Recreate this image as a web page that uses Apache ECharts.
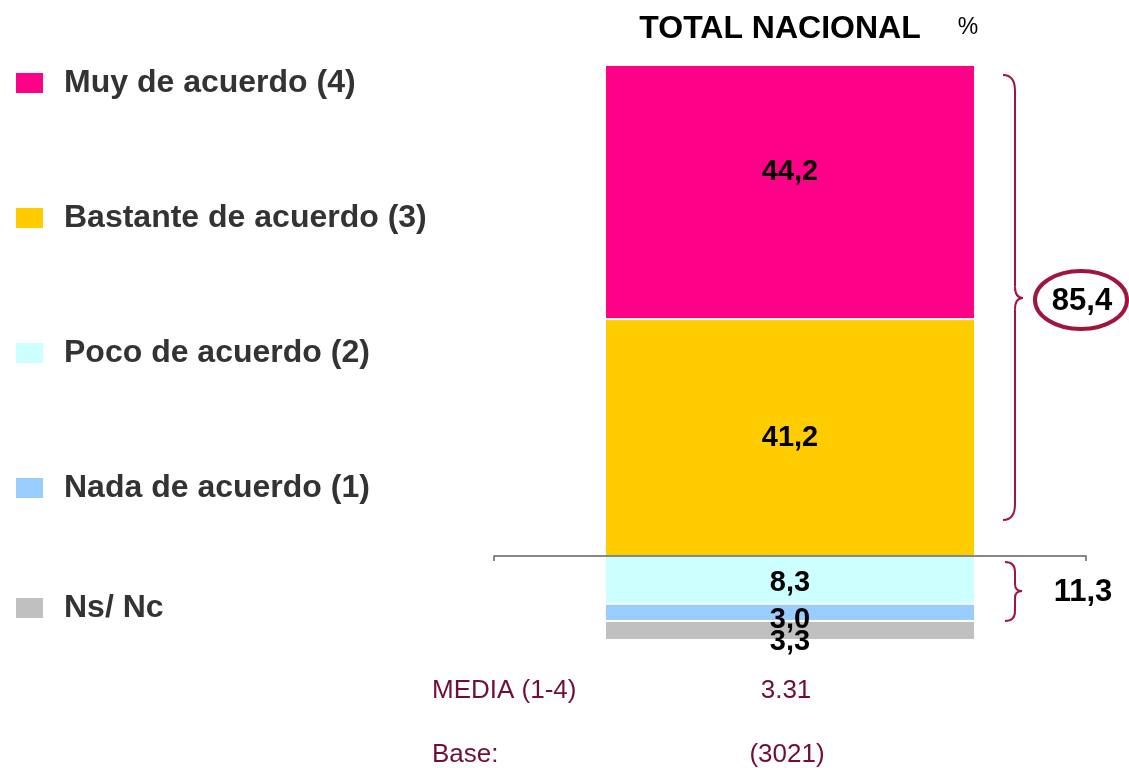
<!DOCTYPE html>
<html>
<head>
<meta charset="utf-8">
<script src="https://cdn.jsdelivr.net/npm/echarts@6/dist/echarts.min.js"></script>
<style>html,body{margin:0;padding:0;background:#fff}#c{width:1129px;height:768px}</style>
</head>
<body>
<div id="c"></div>
<script>
// ---- data ----
const categories = ['TOTAL NACIONAL'];
const seriesNames = ['Muy de acuerdo (4)', 'Bastante de acuerdo (3)', 'Poco de acuerdo (2)', 'Nada de acuerdo (1)', 'Ns/ Nc'];
const muyDeAcuerdo = [44.2];
const bastanteDeAcuerdo = [41.2];
const pocoDeAcuerdo = [8.3];
const nadaDeAcuerdo = [3.0];
const nsNc = [3.3];
const totalAcuerdo = ['85,4'];
const totalDesacuerdo = ['11,3'];
const media = ['3.31'];
const base = ['(3021)'];

const FONT = '"Liberation Sans", Arial, Helvetica, sans-serif';
const RED = '#A0153E';
const MAROON = '#6E0F3B';

function fmt(v) { return Math.abs(v).toFixed(1).replace('.', ','); }

function barSeries(name, values, color, sign, labelOffset) {
  return {
    name: name,
    type: 'bar',
    stack: 'total',
    barWidth: 370,
    data: values.map(v => sign * v),
    itemStyle: { color: color, borderColor: '#fff', borderWidth: 1 },
    label: {
      show: true, position: 'inside', offset: labelOffset || [0, 0],
      formatter: p => fmt(p.value),
      fontFamily: FONT, fontSize: 29, fontWeight: 'bold', color: '#000'
    },
    emphasis: { disabled: true }
  };
}

// decoration helpers (annotation shapes, not data marks)
function quad(x1, y1, cx, cy, x2, y2, w) {
  return { type: 'bezierCurve', shape: { x1: x1, y1: y1, cpx1: cx, cpy1: cy, x2: x2, y2: y2 }, style: { stroke: RED, lineWidth: w, fill: null } };
}
function cubic(x1, y1, c1x, c1y, c2x, c2y, x2, y2, w) {
  return { type: 'bezierCurve', shape: { x1: x1, y1: y1, cpx1: c1x, cpy1: c1y, cpx2: c2x, cpy2: c2y, x2: x2, y2: y2 }, style: { stroke: RED, lineWidth: w, fill: null } };
}
function seg(x1, y1, x2, y2, w) {
  return { type: 'line', shape: { x1: x1, y1: y1, x2: x2, y2: y2 }, style: { stroke: RED, lineWidth: w } };
}
function brace(xEnd, xLine, xTip, top, mid, bottom, r) {
  return [
    quad(xEnd, top, xLine, top, xLine, top + r, 2),
    seg(xLine, top + r, xLine, mid - r * 0.7, 2),
    quad(xLine, mid - r * 0.7, xLine, mid, xTip, mid, 2),
    quad(xTip, mid, xLine, mid, xLine, mid + r * 0.7, 2),
    seg(xLine, mid + r * 0.7, xLine, bottom - r, 2),
    quad(xLine, bottom - r, xLine, bottom, xEnd, bottom, 2)
  ];
}
function ellipse(cx, cy, rx, ry, w) {
  const k = 0.5523;
  return [
    cubic(cx + rx, cy, cx + rx, cy + ry * k, cx + rx * k, cy + ry, cx, cy + ry, w),
    cubic(cx, cy + ry, cx - rx * k, cy + ry, cx - rx, cy + ry * k, cx - rx, cy, w),
    cubic(cx - rx, cy, cx - rx, cy - ry * k, cx - rx * k, cy - ry, cx, cy - ry, w),
    cubic(cx, cy - ry, cx + rx * k, cy - ry, cx + rx, cy - ry * k, cx + rx, cy, w)
  ];
}

const chart = echarts.init(document.getElementById('c'), null, { renderer: 'canvas' });

const legendCommon = {
  orient: 'vertical', left: 14, padding: 0, icon: 'rect', itemWidth: 29, itemHeight: 22,
  selectedMode: false,
  textStyle: { fontFamily: FONT, fontSize: 32, fontWeight: 'bold', color: '#333', lineHeight: 30, padding: [0, 0, 0, 15] }
};

const graphics = [
  { type: 'text', style: { text: categories[0], x: 780, y: 29, align: 'center', verticalAlign: 'middle', font: 'bold 32px ' + FONT, fill: '#000' } },
  { type: 'text', style: { text: '%', x: 968, y: 28, align: 'center', verticalAlign: 'middle', font: '23px ' + FONT, fill: '#000' } },
  { type: 'text', style: { text: totalAcuerdo[0], x: 1082, y: 301, align: 'center', verticalAlign: 'middle', font: 'bold 31px ' + FONT, fill: '#000' } },
  { type: 'text', style: { text: totalDesacuerdo[0], x: 1083, y: 592, align: 'center', verticalAlign: 'middle', font: 'bold 31px ' + FONT, fill: '#000' } },
  { type: 'text', style: { text: 'MEDIA (1-4)', x: 432, y: 691, align: 'left', verticalAlign: 'middle', font: '26px ' + FONT, fill: MAROON } },
  { type: 'text', style: { text: media[0], x: 786, y: 691, align: 'center', verticalAlign: 'middle', font: '26px ' + FONT, fill: MAROON } },
  { type: 'text', style: { text: 'Base:', x: 432, y: 755, align: 'left', verticalAlign: 'middle', font: '26px ' + FONT, fill: MAROON } },
  { type: 'text', style: { text: base[0], x: 787, y: 755, align: 'center', verticalAlign: 'middle', font: '26px ' + FONT, fill: MAROON } }
].concat(
  brace(1003, 1015, 1023, 75, 298, 520, 16),
  brace(1005, 1015, 1022, 562, 591, 621, 10),
  ellipse(1081, 300, 46, 29, 4)
);

chart.setOption({
  animation: false,
  backgroundColor: '#fff',
  grid: { left: 494, right: 43, top: 65, bottom: 97 },
  xAxis: {
    type: 'category', data: categories, z: 10,
    axisLabel: { show: false },
    axisLine: { lineStyle: { color: '#888', width: 2 } },
    axisTick: { show: true, length: 5, lineStyle: { color: '#888', width: 2 } }
  },
  yAxis: { type: 'value', min: -20, max: 85.4, show: false, splitLine: { show: false } },
  legend: [
    Object.assign({}, legendCommon, { top: 67, itemGap: 103, data: seriesNames.slice(0, 4) }),
    Object.assign({}, legendCommon, { top: 592, data: seriesNames.slice(4) })
  ],
  series: [
    barSeries(seriesNames[1], bastanteDeAcuerdo, '#FFCC00', 1),
    barSeries(seriesNames[0], muyDeAcuerdo, '#FF0088', 1, [0, -20]),
    barSeries(seriesNames[2], pocoDeAcuerdo, '#CCFFFF', -1, [0, 3]),
    barSeries(seriesNames[3], nadaDeAcuerdo, '#99CCFF', -1, [0, 8]),
    barSeries(seriesNames[4], nsNc, '#C0C0C0', -1, [0, 12])
  ],
  graphic: graphics
});
</script>
</body>
</html>
